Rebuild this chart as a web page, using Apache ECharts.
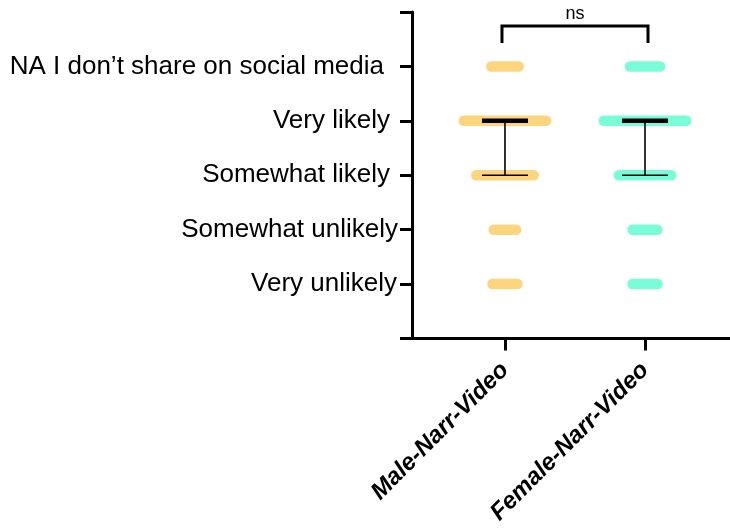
<!DOCTYPE html>
<html>
<head>
<meta charset="utf-8">
<script src="https://cdn.jsdelivr.net/npm/echarts@6/dist/echarts.min.js"></script>
<style>
  html, body { margin: 0; padding: 0; background: #fff; }
  #chart { width: 730px; height: 529px; }
</style>
</head>
<body>
<div id="chart"></div>
<script>
// ---- data ----
const groups = ['Male-Narr-Video', 'Female-Narr-Video'];
const responseLevels = [
  'Very unlikely',
  'Somewhat unlikely',
  'Somewhat likely',
  'Very likely',
  'NA I don\u2019t share on social media'
];
// respondents per response level (levels 1..5)
const maleCounts = [11, 10, 24, 34, 12];
const femaleCounts = [11, 11, 22, 34, 13];
const comparisonLabel = 'ns';

// ---- styling ----
const FONT = '"Liberation Sans", Arial, Helvetica, sans-serif';
const groupColors = ['#FED57F', '#78FDD8'];
const DOT = 10.5;       // dot diameter, px
const DOT_STEP = 2.5;   // horizontal offset between neighbouring dots, px
const BAR_HALF = 23;    // half width of median line / caps, px
const Y_FONT = 26;
// extra right padding of each y label, px
const yLabelPad = { 1: 1, 2: 0, 3: 8, 4: 8, 5: 14 };

const countsByGroup = [maleCounts, femaleCounts];

// percentile of the expanded responses, (n+1)p method
function quantile(counts, p) {
  const vals = [];
  counts.forEach((c, i) => { for (let k = 0; k < c; k++) vals.push(i + 1); });
  const n = vals.length;
  const pos = (n + 1) * p;
  const lo = Math.floor(pos);
  const frac = pos - lo;
  const a = vals[Math.max(0, Math.min(n - 1, lo - 1))];
  const b = vals[Math.max(0, Math.min(n - 1, lo))];
  return a + (b - a) * frac;
}

const bandData = [];
countsByGroup.forEach((counts, g) => {
  counts.forEach((c, i) => {
    if (c > 0) bandData.push([g + 1, i + 1, c]);
  });
});

const summaryData = countsByGroup.map((counts, g) => [
  g + 1,
  quantile(counts, 0.5),
  quantile(counts, 0.25),
  quantile(counts, 0.75)
]);

const rich = {};
Object.keys(yLabelPad).forEach(k => {
  rich['l' + k] = {
    fontSize: Y_FONT, fontFamily: FONT, color: '#000',
    padding: [0, yLabelPad[k], 0, 0]
  };
});

const chart = echarts.init(document.getElementById('chart'), null, { renderer: 'canvas' });

chart.setOption({
  animation: false,
  backgroundColor: '#fff',
  grid: { left: 412, right: 0, top: 12, bottom: 190.5, outerBoundsMode: 'none', containLabel: false },
  xAxis: {
    type: 'value',
    min: 0.336,
    max: 2.607,
    splitLine: { show: false },
    axisLine: { show: true, onZero: false, lineStyle: { color: '#000', width: 3 } },
    axisTick: { show: true, customValues: [1, 2], length: 12, lineStyle: { color: '#000', width: 3 } },
    axisLabel: {
      customValues: [1, 2],
      formatter: v => groups[Math.round(v) - 1] || '',
      rotate: 45,
      margin: 28,
      fontSize: 24,
      fontWeight: 'bold',
      fontStyle: 'italic',
      fontFamily: FONT,
      color: '#000'
    }
  },
  yAxis: {
    type: 'value',
    min: 0,
    max: 6,
    interval: 1,
    splitLine: { show: false },
    axisLine: { show: true, onZero: false, lineStyle: { color: '#000', width: 3 } },
    axisTick: { show: true, length: 12, lineStyle: { color: '#000', width: 3 } },
    axisLabel: {
      margin: 14,
      fontSize: Y_FONT,
      fontFamily: FONT,
      color: '#000',
      formatter: v => (v >= 1 && v <= 5) ? '{l' + v + '|' + responseLevels[v - 1] + '}' : '',
      rich: rich
    }
  },
  series: [
    {
      // stacked respondent dots at each response level
      type: 'custom',
      data: bandData,
      encode: { x: 0, y: 1 },
      z: 2,
      renderItem: (params, api) => {
        const c = api.coord([api.value(0), api.value(1)]);
        const n = api.value(2);
        const w = DOT + (n - 1) * DOT_STEP;
        return {
          type: 'rect',
          shape: { x: c[0] - w / 2, y: c[1] - DOT / 2, width: w, height: DOT, r: DOT / 2 },
          style: { fill: groupColors[api.value(0) - 1] }
        };
      }
    },
    {
      // median with interquartile range
      type: 'custom',
      data: summaryData,
      encode: { x: 0, y: [1, 2, 3] },
      z: 3,
      renderItem: (params, api) => {
        const x = api.value(0);
        const med = api.coord([x, api.value(1)]);
        const q1 = api.coord([x, api.value(2)]);
        const q3 = api.coord([x, api.value(3)]);
        const thin = { stroke: '#000', lineWidth: 1.6 };
        return {
          type: 'group',
          children: [
            { type: 'line', shape: { x1: med[0], y1: q1[1], x2: med[0], y2: q3[1] }, style: thin },
            { type: 'line', shape: { x1: med[0] - BAR_HALF, y1: q1[1], x2: med[0] + BAR_HALF, y2: q1[1] }, style: thin },
            { type: 'line', shape: { x1: med[0] - BAR_HALF, y1: q3[1], x2: med[0] + BAR_HALF, y2: q3[1] }, style: thin },
            { type: 'line', shape: { x1: med[0] - BAR_HALF, y1: med[1], x2: med[0] + BAR_HALF, y2: med[1] }, style: { stroke: '#000', lineWidth: 4.5 } }
          ]
        };
      }
    },
    {
      // comparison bracket between the two groups
      type: 'custom',
      data: [[1, 2, 5.742, 5.43]],
      encode: { x: [0, 1], y: [2, 3] },
      z: 3,
      renderItem: (params, api) => {
        const a = api.coord([api.value(0), api.value(2)]);
        const b = api.coord([api.value(1), api.value(2)]);
        const low = api.coord([api.value(0), api.value(3)]);
        const xa = a[0] - 3, xb = b[0] + 3;
        return {
          type: 'group',
          children: [
            {
              type: 'polyline',
              shape: { points: [[xa, low[1]], [xa, a[1]], [xb, a[1]], [xb, low[1]]] },
              style: { stroke: '#000', lineWidth: 3, fill: null, lineJoin: 'miter' }
            },
            {
              type: 'text',
              x: (xa + xb) / 2,
              y: a[1] - 3,
              style: {
                text: comparisonLabel, fontSize: 18, fontFamily: FONT, fill: '#000',
                align: 'center', verticalAlign: 'bottom'
              }
            }
          ]
        };
      }
    }
  ]
});
</script>
</body>
</html>
